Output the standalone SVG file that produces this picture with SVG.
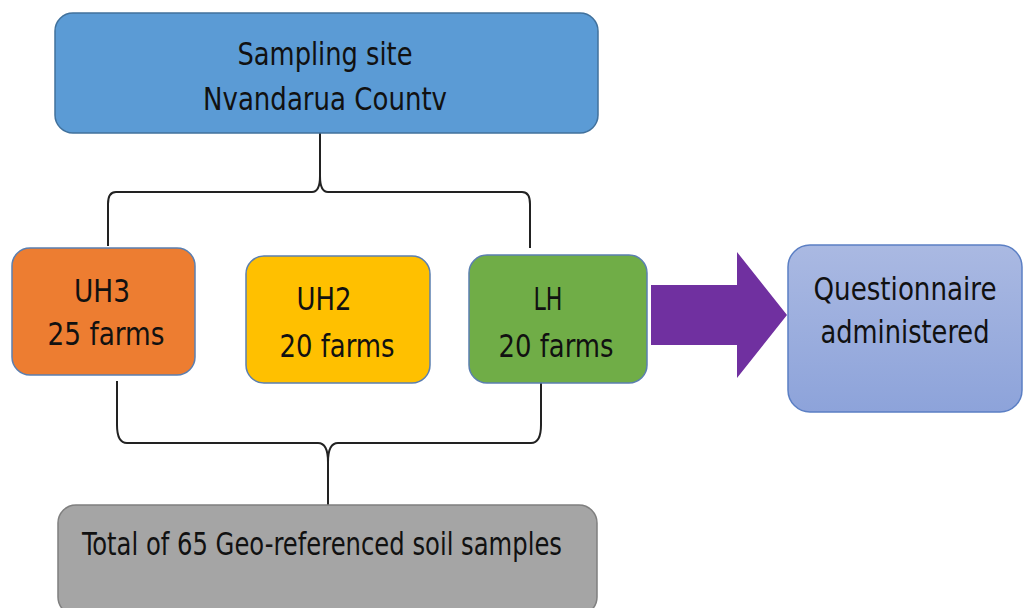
<svg xmlns="http://www.w3.org/2000/svg" width="1023" height="608" viewBox="0 0 1023 608">
<defs>
<linearGradient id="qg" x1="0" y1="0" x2="0" y2="1">
<stop offset="0" stop-color="#AAB9E2"/>
<stop offset="1" stop-color="#8DA3DA"/>
</linearGradient>
<style>
.t{font-family:"DejaVu Sans Condensed","DejaVu Sans","Liberation Sans",sans-serif;font-size:32px;fill:#111;text-anchor:middle}
.br{fill:none;stroke:#222;stroke-width:2}
</style>
</defs>
<rect width="1023" height="608" fill="#fff"/>
<g id="connectors">
<path class="br" d="M320 133 V176 Q320 192 312 192 H116 Q108 192 108 204 V246"/>
<path class="br" d="M320 176 Q320 192 328 192 H522 Q530 192 530 204 V248"/>
<path class="br" d="M117 381 V425 Q117 443 127 443 H318 Q328 443 328 462 V505"/>
<path class="br" d="M541 383 V425 Q541 443 531 443 H338 Q328 443 328 462"/>
<polygon id="arrow" points="651,285 737,285 737,252 787,315 737,378 737,345 651,345" fill="#7030A0"/>
</g>
<g id="site">
<rect x="55" y="13" width="543" height="120" rx="18" fill="#5B9BD5" stroke="#41719C" stroke-width="1.5"/>
<text class="t" x="325" y="65" textLength="175" lengthAdjust="spacingAndGlyphs">Sampling site</text>
<text class="t" x="325" y="110" textLength="244" lengthAdjust="spacingAndGlyphs">Nvandarua Countv</text>
</g>
<g id="uh3">
<rect x="12" y="248" width="183" height="127" rx="18" fill="#ED7D31" stroke="#5B7FB0" stroke-width="1.5"/>
<text class="t" x="102" y="302" textLength="56" lengthAdjust="spacingAndGlyphs">UH3</text>
<text class="t" x="106" y="345" textLength="117" lengthAdjust="spacingAndGlyphs">25 farms</text>
</g>
<g id="uh2">
<rect x="246" y="256" width="184" height="127" rx="18" fill="#FFC000" stroke="#5B7FB0" stroke-width="1.5"/>
<text class="t" x="324" y="310" textLength="55" lengthAdjust="spacingAndGlyphs">UH2</text>
<text class="t" x="337" y="357" textLength="115" lengthAdjust="spacingAndGlyphs">20 farms</text>
</g>
<g id="lh">
<rect x="469" y="255" width="178" height="128" rx="18" fill="#70AD47" stroke="#5B7FB0" stroke-width="1.5"/>
<text class="t" x="548" y="310" textLength="29" lengthAdjust="spacingAndGlyphs">LH</text>
<text class="t" x="556" y="357" textLength="115" lengthAdjust="spacingAndGlyphs">20 farms</text>
</g>
<g id="questionnaire">
<rect x="788" y="245" width="234" height="167" rx="22" fill="url(#qg)" stroke="#5B7FC4" stroke-width="1.5"/>
<text class="t" x="905" y="300" textLength="183" lengthAdjust="spacingAndGlyphs">Questionnaire</text>
<text class="t" x="905" y="343" textLength="169" lengthAdjust="spacingAndGlyphs">administered</text>
</g>
<g id="total">
<rect x="58" y="505" width="539" height="110" rx="18" fill="#A5A5A5" stroke="#7F7F7F" stroke-width="1.5"/>
<text class="t" x="322" y="555" textLength="480" lengthAdjust="spacingAndGlyphs">Total of 65 Geo-referenced soil samples</text>
</g>
</svg>
